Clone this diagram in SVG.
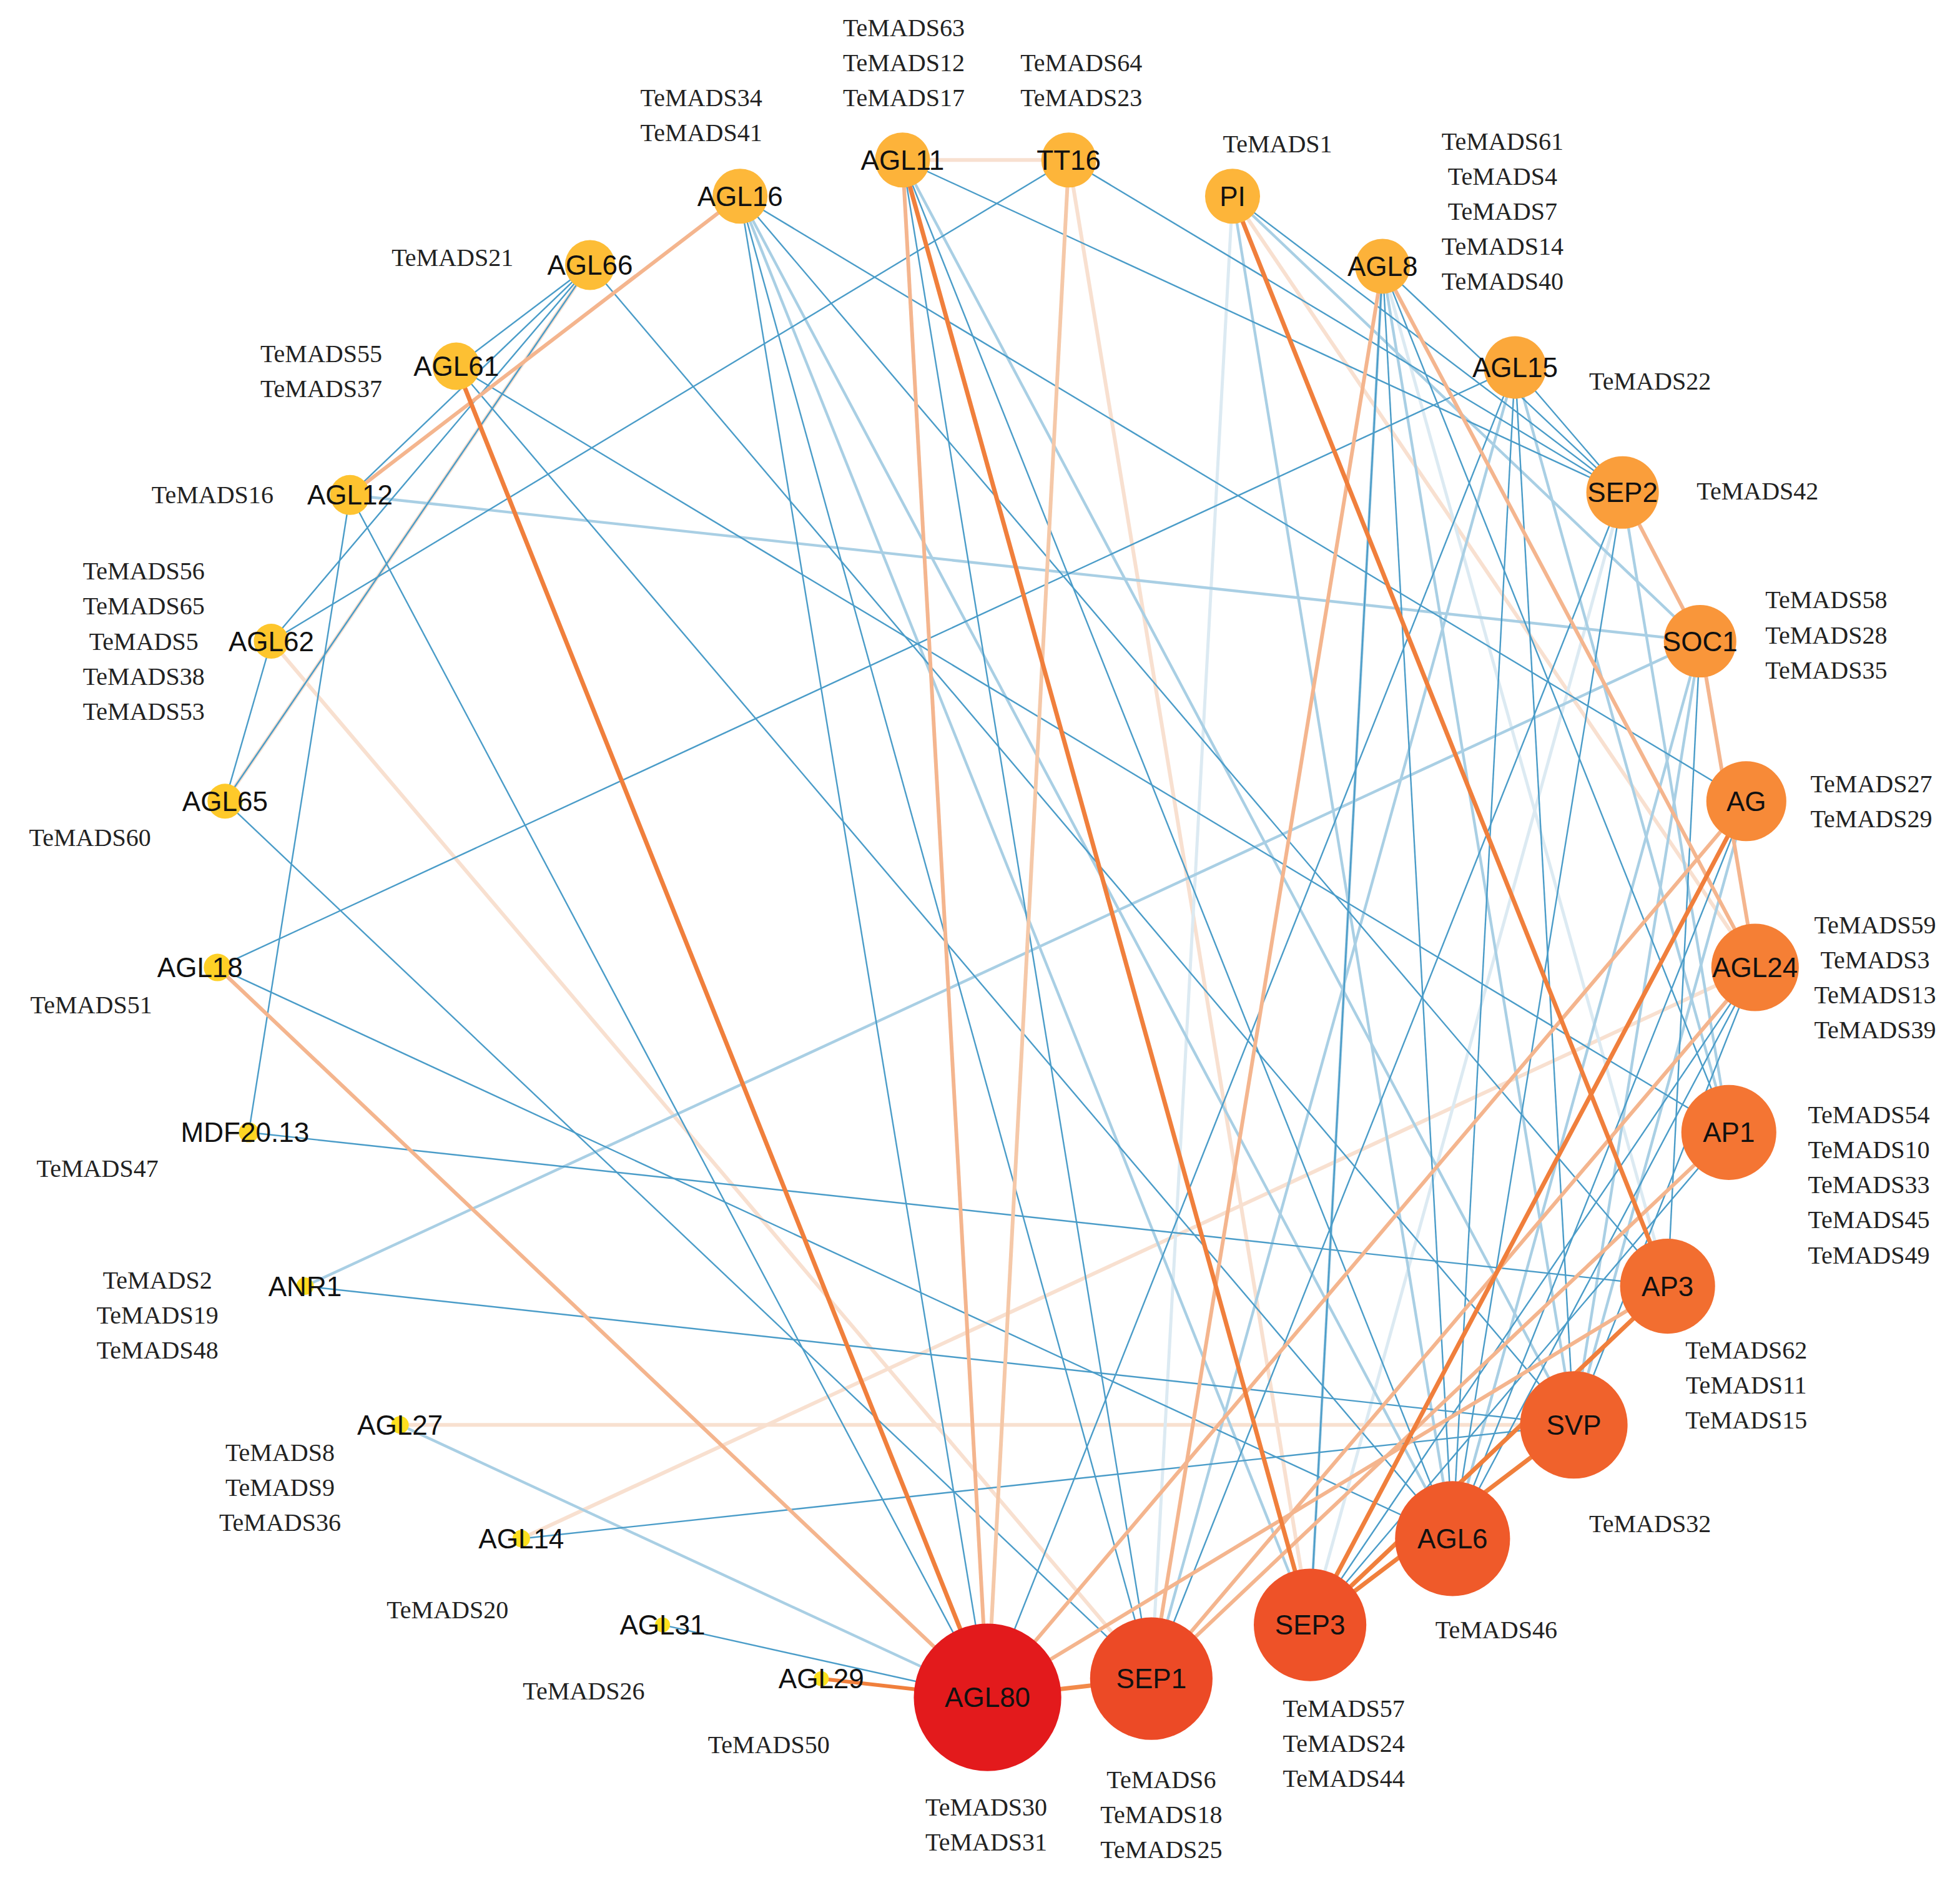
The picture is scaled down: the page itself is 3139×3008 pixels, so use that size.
<svg xmlns="http://www.w3.org/2000/svg" width="3139" height="3008" viewBox="0 0 3139 3008">
<style>
.t{font-family:"Liberation Serif",serif;font-size:20px;fill:#222;text-anchor:middle;dominant-baseline:central}
.n{font-family:"Liberation Sans",sans-serif;font-size:22px;fill:#111;text-anchor:middle;dominant-baseline:central}
.b{stroke:#4a9cc8;stroke-width:1.2;fill:none}
.lb{stroke:#a9cfe4;stroke-width:2.2;fill:none}
.vb{stroke:#dceaf2;stroke-width:2.5;fill:none}
.o{stroke:#f07f3c;stroke-width:3.5;fill:none}
.lo{stroke:#f4b58e;stroke-width:3;fill:none}
.po{stroke:#f8e0d0;stroke-width:3;fill:none}
</style>
<rect width="3139" height="3008" fill="#fff"/>
<g transform="scale(2.002)">
<g id="connectors">
<line class="po" x1="722" y1="128" x2="855" y2="128"/>
<line class="po" x1="472" y1="212" x2="180" y2="641"/>
<line class="po" x1="217" y1="513" x2="921" y2="1343"/>
<line class="po" x1="320" y1="1140" x2="1259" y2="1140"/>
<line class="po" x1="417" y1="1231" x2="1404" y2="774"/>
<line class="po" x1="855" y1="128" x2="1048" y2="1300"/>
<line class="po" x1="986" y1="157" x2="1404" y2="774"/>
<line class="vb" x1="1106" y1="213" x2="1334" y2="1029"/>
<line class="vb" x1="986" y1="157" x2="921" y2="1343"/>
<line class="vb" x1="1298" y1="394" x2="1048" y2="1300"/>
<line class="lb" x1="280" y1="396" x2="1360" y2="513"/>
<line class="lb" x1="244" y1="1029" x2="1360" y2="513"/>
<line class="lb" x1="320" y1="1140" x2="790" y2="1358"/>
<line class="lb" x1="986" y1="157" x2="1162" y2="1231"/>
<line class="lb" x1="592" y1="157" x2="1048" y2="1300"/>
<line class="lb" x1="592" y1="157" x2="1162" y2="1231"/>
<line class="lb" x1="722" y1="128" x2="1259" y2="1140"/>
<line class="lb" x1="1298" y1="394" x2="1383" y2="906"/>
<line class="lb" x1="1360" y1="513" x2="1259" y2="1140"/>
<line class="lb" x1="1212" y1="294" x2="1383" y2="906"/>
<line class="lb" x1="1106" y1="213" x2="1259" y2="1140"/>
<line class="lb" x1="1106" y1="213" x2="1048" y2="1300"/>
<line class="lb" x1="1360" y1="513" x2="1162" y2="1231"/>
<line class="lb" x1="1397" y1="641" x2="1259" y2="1140"/>
<line class="lb" x1="1212" y1="294" x2="921" y2="1343"/>
<line class="lb" x1="986" y1="157" x2="1360" y2="513"/>
<line class="b" x1="855" y1="128" x2="217" y2="513"/>
<line class="b" x1="1212" y1="294" x2="174" y2="774"/>
<line class="b" x1="722" y1="128" x2="1298" y2="394"/>
<line class="b" x1="722" y1="128" x2="1162" y2="1231"/>
<line class="b" x1="722" y1="128" x2="921" y2="1343"/>
<line class="b" x1="855" y1="128" x2="1298" y2="394"/>
<line class="b" x1="986" y1="157" x2="1298" y2="394"/>
<line class="b" x1="592" y1="157" x2="790" y2="1358"/>
<line class="b" x1="592" y1="157" x2="1334" y2="1029"/>
<line class="b" x1="592" y1="157" x2="1397" y2="641"/>
<line class="b" x1="592" y1="157" x2="921" y2="1343"/>
<line class="b" x1="472" y1="212" x2="217" y2="513"/>
<line class="b" x1="472" y1="212" x2="280" y2="396"/>
<line class="b" x1="472" y1="212" x2="180" y2="641"/>
<line class="b" x1="472" y1="212" x2="1259" y2="1140"/>
<line class="b" x1="365" y1="293" x2="472" y2="212"/>
<line class="b" x1="365" y1="293" x2="1383" y2="906"/>
<line class="b" x1="365" y1="293" x2="1162" y2="1231"/>
<line class="b" x1="280" y1="396" x2="790" y2="1358"/>
<line class="b" x1="280" y1="396" x2="199" y2="906"/>
<line class="b" x1="217" y1="513" x2="180" y2="641"/>
<line class="b" x1="180" y1="641" x2="921" y2="1343"/>
<line class="b" x1="174" y1="774" x2="1162" y2="1231"/>
<line class="b" x1="199" y1="906" x2="1334" y2="1029"/>
<line class="b" x1="244" y1="1029" x2="1259" y2="1140"/>
<line class="b" x1="417" y1="1231" x2="1259" y2="1140"/>
<line class="b" x1="530" y1="1300" x2="790" y2="1358"/>
<line class="b" x1="790" y1="1358" x2="1212" y2="294"/>
<line class="b" x1="921" y1="1343" x2="1298" y2="394"/>
<line class="b" x1="1048" y1="1300" x2="1106" y2="213"/>
<line class="b" x1="1162" y1="1231" x2="1106" y2="213"/>
<line class="b" x1="1162" y1="1231" x2="1212" y2="294"/>
<line class="b" x1="1259" y1="1140" x2="1212" y2="294"/>
<line class="b" x1="1383" y1="906" x2="1106" y2="213"/>
<line class="b" x1="1404" y1="774" x2="1162" y2="1231"/>
<line class="b" x1="1397" y1="641" x2="1162" y2="1231"/>
<line class="b" x1="1212" y1="294" x2="1298" y2="394"/>
<line class="b" x1="1106" y1="213" x2="1298" y2="394"/>
<line class="b" x1="1404" y1="774" x2="1048" y2="1300"/>
<line class="b" x1="1383" y1="906" x2="1048" y2="1300"/>
<line class="b" x1="1360" y1="513" x2="1334" y2="1029"/>
<line class="b" x1="1404" y1="774" x2="1259" y2="1140"/>
<line class="b" x1="1298" y1="394" x2="1162" y2="1231"/>
<line class="lo" x1="722" y1="128" x2="790" y2="1358"/>
<line class="lo" x1="592" y1="157" x2="280" y2="396"/>
<line class="lo" x1="174" y1="774" x2="790" y2="1358"/>
<line class="lo" x1="1106" y1="213" x2="921" y2="1343"/>
<line class="lo" x1="1106" y1="213" x2="1404" y2="774"/>
<line class="lo" x1="1298" y1="394" x2="1360" y2="513"/>
<line class="lo" x1="1360" y1="513" x2="1404" y2="774"/>
<line class="lo" x1="790" y1="1358" x2="1397" y2="641"/>
<line class="lo" x1="921" y1="1343" x2="1383" y2="906"/>
<line class="lo" x1="921" y1="1343" x2="1404" y2="774"/>
<line class="lo" x1="790" y1="1358" x2="1334" y2="1029"/>
<line class="lo" x1="855" y1="128" x2="790" y2="1358" style="stroke:#f5c8a8"/>
<line class="o" x1="365" y1="293" x2="790" y2="1358"/>
<line class="o" x1="722" y1="128" x2="1048" y2="1300"/>
<line class="o" x1="986" y1="157" x2="1334" y2="1029"/>
<line class="o" x1="1397" y1="641" x2="1048" y2="1300"/>
<line class="o" x1="1334" y1="1029" x2="1048" y2="1300"/>
<line class="o" x1="1259" y1="1140" x2="1048" y2="1300"/>
<line class="o" x1="790" y1="1358" x2="921" y2="1343" style="stroke:#f28a4a"/>
<line class="o" x1="657" y1="1343" x2="790" y2="1358" style="stroke-width:3"/>
</g>
<g id="AGL11"><circle cx="722" cy="128" r="22" fill="#fdb33a"/><text class="n" x="722" y="128">AGL11</text><text class="t" x="723" y="22">TeMADS63</text><text class="t" x="723" y="50">TeMADS12</text><text class="t" x="723" y="78">TeMADS17</text></g>
<g id="TT16"><circle cx="855" cy="128" r="22" fill="#fdb53a"/><text class="n" x="855" y="128">TT16</text><text class="t" x="865" y="50">TeMADS64</text><text class="t" x="865" y="78">TeMADS23</text></g>
<g id="PI"><circle cx="986" cy="157" r="22" fill="#fdb53a"/><text class="n" x="986" y="157">PI</text><text class="t" x="1022" y="115">TeMADS1</text></g>
<g id="AGL16"><circle cx="592" cy="157" r="22" fill="#fdb83a"/><text class="n" x="592" y="157">AGL16</text><text class="t" x="561" y="78">TeMADS34</text><text class="t" x="561" y="106">TeMADS41</text></g>
<g id="AGL8"><circle cx="1106" cy="213" r="22" fill="#fcb23a"/><text class="n" x="1106" y="213">AGL8</text><text class="t" x="1202" y="113">TeMADS61</text><text class="t" x="1202" y="141">TeMADS4</text><text class="t" x="1202" y="169">TeMADS7</text><text class="t" x="1202" y="197">TeMADS14</text><text class="t" x="1202" y="225">TeMADS40</text></g>
<g id="AGL66"><circle cx="472" cy="212" r="20" fill="#fdbd36"/><text class="n" x="472" y="212">AGL66</text><text class="t" x="362" y="206">TeMADS21</text></g>
<g id="AGL61"><circle cx="365" cy="293" r="19" fill="#fdc033"/><text class="n" x="365" y="293">AGL61</text><text class="t" x="257" y="283">TeMADS55</text><text class="t" x="257" y="311">TeMADS37</text></g>
<g id="AGL15"><circle cx="1212" cy="294" r="25" fill="#fba83b"/><text class="n" x="1212" y="294">AGL15</text><text class="t" x="1320" y="305">TeMADS22</text></g>
<g id="AGL12"><circle cx="280" cy="396" r="16" fill="#fec330"/><text class="n" x="280" y="396">AGL12</text><text class="t" x="170" y="396">TeMADS16</text></g>
<g id="SEP2"><circle cx="1298" cy="394" r="29" fill="#fa9e3b"/><text class="n" x="1298" y="394">SEP2</text><text class="t" x="1406" y="393">TeMADS42</text></g>
<g id="AGL62"><circle cx="217" cy="513" r="14" fill="#fec62c"/><text class="n" x="217" y="513">AGL62</text><text class="t" x="115" y="457">TeMADS56</text><text class="t" x="115" y="485">TeMADS65</text><text class="t" x="115" y="513">TeMADS5</text><text class="t" x="115" y="541">TeMADS38</text><text class="t" x="115" y="569">TeMADS53</text></g>
<g id="SOC1"><circle cx="1360" cy="513" r="29" fill="#f9963a"/><text class="n" x="1360" y="513">SOC1</text><text class="t" x="1461" y="480">TeMADS58</text><text class="t" x="1461" y="508">TeMADS28</text><text class="t" x="1461" y="536">TeMADS35</text></g>
<g id="AGL65"><circle cx="180" cy="641" r="14" fill="#fec92a"/><text class="n" x="180" y="641">AGL65</text><text class="t" x="72" y="670">TeMADS60</text></g>
<g id="AG"><circle cx="1397" cy="641" r="32" fill="#f78a38"/><text class="n" x="1397" y="641">AG</text><text class="t" x="1497" y="627">TeMADS27</text><text class="t" x="1497" y="655">TeMADS29</text></g>
<g id="AGL18"><circle cx="174" cy="774" r="11" fill="#fed026"/><text class="n" x="160" y="774">AGL18</text><text class="t" x="73" y="804">TeMADS51</text></g>
<g id="AGL24"><circle cx="1404" cy="774" r="35" fill="#f57f35"/><text class="n" x="1404" y="774">AGL24</text><text class="t" x="1500" y="740">TeMADS59</text><text class="t" x="1500" y="768">TeMADS3</text><text class="t" x="1500" y="796">TeMADS13</text><text class="t" x="1500" y="824">TeMADS39</text></g>
<g id="MDF20.13"><circle cx="199" cy="906" r="8" fill="#fed523"/><text class="n" x="196" y="906">MDF20.13</text><text class="t" x="78" y="935">TeMADS47</text></g>
<g id="AP1"><circle cx="1383" cy="906" r="38" fill="#f47533"/><text class="n" x="1383" y="906">AP1</text><text class="t" x="1495" y="892">TeMADS54</text><text class="t" x="1495" y="920">TeMADS10</text><text class="t" x="1495" y="948">TeMADS33</text><text class="t" x="1495" y="976">TeMADS45</text><text class="t" x="1495" y="1004">TeMADS49</text></g>
<g id="ANR1"><circle cx="244" cy="1029" r="7" fill="#fedb20"/><text class="n" x="244" y="1029">ANR1</text><text class="t" x="126" y="1024">TeMADS2</text><text class="t" x="126" y="1052">TeMADS19</text><text class="t" x="126" y="1080">TeMADS48</text></g>
<g id="AP3"><circle cx="1334" cy="1029" r="38" fill="#f26e30"/><text class="n" x="1334" y="1029">AP3</text><text class="t" x="1397" y="1080">TeMADS62</text><text class="t" x="1397" y="1108">TeMADS11</text><text class="t" x="1397" y="1136">TeMADS15</text></g>
<g id="AGL27"><circle cx="320" cy="1140" r="7" fill="#fee01e"/><text class="n" x="320" y="1140">AGL27</text><text class="t" x="224" y="1162">TeMADS8</text><text class="t" x="224" y="1190">TeMADS9</text><text class="t" x="224" y="1218">TeMADS36</text></g>
<g id="SVP"><circle cx="1259" cy="1140" r="43" fill="#f0622c"/><text class="n" x="1259" y="1140">SVP</text><text class="t" x="1320" y="1219">TeMADS32</text></g>
<g id="AGL14"><circle cx="417" cy="1231" r="7" fill="#fee01e"/><text class="n" x="417" y="1231">AGL14</text><text class="t" x="358" y="1288">TeMADS20</text></g>
<g id="AGL6"><circle cx="1162" cy="1231" r="46" fill="#ef5a2a"/><text class="n" x="1162" y="1231">AGL6</text><text class="t" x="1197" y="1304">TeMADS46</text></g>
<g id="AGL31"><circle cx="530" cy="1300" r="6" fill="#fee01e"/><text class="n" x="530" y="1300">AGL31</text><text class="t" x="467" y="1353">TeMADS26</text></g>
<g id="SEP3"><circle cx="1048" cy="1300" r="45" fill="#ee5228"/><text class="n" x="1048" y="1300">SEP3</text><text class="t" x="1075" y="1367">TeMADS57</text><text class="t" x="1075" y="1395">TeMADS24</text><text class="t" x="1075" y="1423">TeMADS44</text></g>
<g id="AGL29"><circle cx="657" cy="1343" r="6" fill="#fee01e"/><text class="n" x="657" y="1343">AGL29</text><text class="t" x="615" y="1396">TeMADS50</text></g>
<g id="SEP1"><circle cx="921" cy="1343" r="49" fill="#ec4a26"/><text class="n" x="921" y="1343">SEP1</text><text class="t" x="929" y="1424">TeMADS6</text><text class="t" x="929" y="1452">TeMADS18</text><text class="t" x="929" y="1480">TeMADS25</text></g>
<g id="AGL80"><circle cx="790" cy="1358" r="59" fill="#e31a1c"/><text class="n" x="790" y="1358">AGL80</text><text class="t" x="789" y="1446">TeMADS30</text><text class="t" x="789" y="1474">TeMADS31</text></g>
</g>
</svg>
